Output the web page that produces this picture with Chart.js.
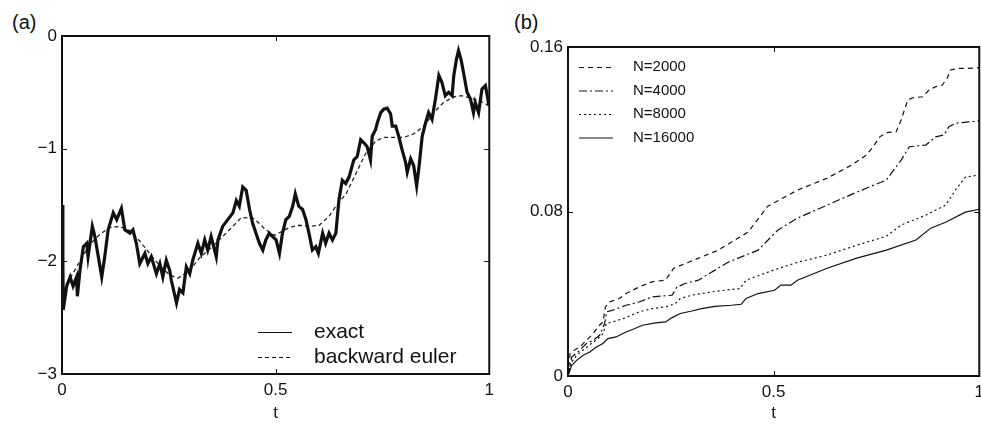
<!DOCTYPE html>
<html><head><meta charset="utf-8">
<script src="https://cdn.jsdelivr.net/npm/chart.js@4.4.1/dist/chart.umd.min.js"></script>
<style>
html,body{margin:0;padding:0;background:#fff;overflow:hidden;width:981px;height:424px;}
#ca{position:absolute;left:0;top:0;}
#cb{position:absolute;left:500px;top:0;}
.lab{position:absolute;font-family:"Liberation Sans",Arial,sans-serif;font-size:20px;color:#111;line-height:20px;}
</style></head>
<body>
<div class="lab" style="left:12px;top:12px;">(a)</div>
<div class="lab" style="left:514px;top:12px;">(b)</div>
<canvas id="ca" width="500" height="424"></canvas>
<canvas id="cb" width="490" height="424"></canvas>
<script>
// ---------- Panel (a) data ----------
const exactT = [0,0.002,0.003,0.011,0.019,0.026,0.034,0.036,0.042,0.050,0.058,0.061,0.071,0.077,0.085,0.093,0.100,0.108,0.120,0.128,0.139,0.147,0.159,0.166,0.174,0.182,0.194,0.201,0.209,0.221,0.229,0.236,0.244,0.252,0.256,0.268,0.275,0.283,0.291,0.299,0.306,0.318,0.326,0.334,0.341,0.349,0.361,0.365,0.376,0.388,0.400,0.408,0.415,0.423,0.431,0.439,0.446,0.454,0.462,0.470,0.477,0.485,0.493,0.501,0.509,0.516,0.524,0.532,0.540,0.546,0.554,0.563,0.571,0.578,0.586,0.594,0.600,0.610,0.617,0.625,0.633,0.641,0.648,0.656,0.664,0.672,0.683,0.691,0.699,0.707,0.714,0.722,0.726,0.734,0.738,0.746,0.753,0.761,0.769,0.773,0.781,0.788,0.796,0.804,0.808,0.816,0.823,0.830,0.835,0.843,0.851,0.858,0.866,0.874,0.882,0.889,0.897,0.905,0.913,0.917,0.923,0.928,0.934,0.940,0.948,0.956,0.963,0.967,0.975,0.983,0.991,0.998,1.0];
const exactV = [-1.5,-2.0,-2.43,-2.22,-2.14,-2.22,-2.14,-2.31,-2.08,-1.87,-1.84,-1.96,-1.69,-1.78,-1.96,-2.14,-1.96,-1.72,-1.57,-1.63,-1.53,-1.72,-1.75,-1.72,-1.84,-2.02,-1.93,-2.02,-1.96,-2.11,-2.02,-2.14,-1.99,-2.08,-2.17,-2.37,-2.25,-2.28,-2.05,-2.11,-1.99,-1.84,-1.93,-1.81,-1.90,-1.78,-1.96,-1.81,-1.69,-1.63,-1.57,-1.46,-1.51,-1.34,-1.37,-1.54,-1.66,-1.75,-1.84,-1.90,-1.81,-1.75,-1.78,-1.81,-1.93,-1.75,-1.63,-1.60,-1.51,-1.40,-1.51,-1.54,-1.63,-1.75,-1.90,-1.87,-1.93,-1.75,-1.84,-1.75,-1.81,-1.75,-1.46,-1.28,-1.31,-1.25,-1.10,-1.07,-0.92,-0.95,-0.98,-1.10,-0.89,-0.83,-0.77,-0.68,-0.65,-0.64,-0.69,-0.80,-0.80,-0.89,-1.01,-1.12,-1.21,-1.09,-1.15,-1.33,-1.18,-0.89,-0.77,-0.68,-0.74,-0.56,-0.35,-0.41,-0.53,-0.50,-0.53,-0.35,-0.21,-0.13,-0.21,-0.33,-0.50,-0.56,-0.68,-0.59,-0.68,-0.47,-0.44,-0.59,-0.62];
const eulerT = [0,0.019,0.042,0.065,0.089,0.112,0.135,0.159,0.182,0.205,0.229,0.252,0.271,0.299,0.322,0.357,0.392,0.420,0.450,0.474,0.497,0.532,0.555,0.578,0.602,0.625,0.641,0.665,0.688,0.711,0.735,0.753,0.777,0.800,0.823,0.847,0.870,0.893,0.917,0.935,0.956,0.980,1.0];
const eulerV = [-2.25,-2.15,-2.0,-1.85,-1.76,-1.70,-1.69,-1.73,-1.82,-1.93,-2.04,-2.12,-2.15,-2.08,-1.97,-1.85,-1.72,-1.61,-1.62,-1.71,-1.77,-1.70,-1.68,-1.69,-1.68,-1.60,-1.51,-1.40,-1.22,-1.04,-0.93,-0.90,-0.90,-0.90,-0.87,-0.80,-0.68,-0.59,-0.54,-0.53,-0.55,-0.58,-0.62];
const ticksAx = [0,0.5,1];
const ticksAy = [-3,-2,-1,0];

// ---------- Panel (b) data ----------
const n2000T = [0,0.005,0.021,0.033,0.041,0.049,0.061,0.073,0.085,0.091,0.101,0.125,0.141,0.173,0.204,0.237,0.257,0.293,0.365,0.438,0.486,0.558,0.630,0.690,0.726,0.742,0.758,0.774,0.798,0.810,0.826,0.838,0.862,0.878,0.894,0.910,0.922,0.930,0.950,0.974,1.0];
const n2000V = [0,0.0109,0.0133,0.0149,0.0166,0.0182,0.0206,0.0239,0.0263,0.0336,0.0360,0.0377,0.0401,0.0433,0.0458,0.0466,0.0524,0.0553,0.0612,0.0700,0.0826,0.0904,0.0962,0.1026,0.1075,0.1115,0.1163,0.1183,0.1188,0.1245,0.1342,0.1353,0.1358,0.1391,0.1407,0.1415,0.1448,0.1488,0.1496,0.1496,0.1499];
const n4000T = [0,0.009,0.024,0.045,0.061,0.077,0.089,0.094,0.109,0.141,0.173,0.205,0.253,0.265,0.285,0.317,0.389,0.462,0.510,0.558,0.630,0.702,0.774,0.810,0.830,0.870,0.894,0.914,0.926,0.942,0.974,1.0];
const n4000V = [0,0.0092,0.0117,0.0158,0.0174,0.0198,0.0255,0.0312,0.0320,0.0344,0.0360,0.0385,0.0393,0.0433,0.0450,0.0466,0.0553,0.0612,0.0709,0.0768,0.0831,0.0894,0.0953,0.1050,0.1115,0.1123,0.1163,0.1172,0.1212,0.1229,0.1236,0.1241];
const n8000T = [0,0.009,0.021,0.041,0.057,0.073,0.085,0.093,0.109,0.141,0.173,0.205,0.237,0.261,0.273,0.301,0.349,0.397,0.418,0.433,0.500,0.558,0.630,0.702,0.774,0.810,0.870,0.918,0.942,0.966,1.0];
const n8000V = [0,0.0068,0.0101,0.0133,0.0158,0.0182,0.0206,0.0255,0.0263,0.0284,0.0312,0.0328,0.0336,0.0352,0.0377,0.0393,0.0409,0.0421,0.0425,0.0466,0.0515,0.0553,0.0588,0.0636,0.0680,0.0734,0.0782,0.0831,0.0904,0.0967,0.0978];
const n16000T = [0,0.009,0.021,0.037,0.053,0.069,0.085,0.097,0.117,0.141,0.157,0.181,0.213,0.237,0.253,0.273,0.301,0.325,0.357,0.397,0.421,0.433,0.462,0.502,0.518,0.542,0.558,0.630,0.702,0.774,0.846,0.882,0.918,0.966,1.0];
const n16000V = [0,0.0052,0.0076,0.0101,0.0117,0.0141,0.0158,0.0182,0.0190,0.0214,0.0226,0.0247,0.0258,0.0263,0.0284,0.0304,0.0316,0.0328,0.0339,0.0344,0.0349,0.0377,0.0401,0.0417,0.0442,0.0442,0.0466,0.0524,0.0573,0.0612,0.0661,0.0719,0.0748,0.0797,0.0811];
const ticksBx = [0,0.5,1];
const ticksBy = [0,0.08,0.16];

const FONT = '"Liberation Sans", Arial, Helvetica, sans-serif';
const pts = (T,V) => T.map((t,i)=>({x:t,y:V[i]}));
const fmt = v => { const s = Number(Number(v).toFixed(2)).toString(); return v < 0 ? '\u2212' + s.slice(1) : s; };

const boxPlugin = {
  id: 'mbox',
  afterDatasetsDraw(chart, args, o) {
    const ctx = chart.ctx, a = chart.chartArea, sx = chart.scales.x, sy = chart.scales.y;
    ctx.save();
    ctx.strokeStyle = '#111';
    ctx.lineWidth = 2;
    ctx.setLineDash([]);
    ctx.strokeRect(a.left, a.top, a.right - a.left, a.bottom - a.top);
    ctx.lineWidth = 1;
    const tl = 5;
    ctx.beginPath();
    sx.ticks.forEach(t => { const p = Math.round(sx.getPixelForValue(t.value)) + 0.5;
      ctx.moveTo(p, a.bottom); ctx.lineTo(p, a.bottom - tl);
      ctx.moveTo(p, a.top); ctx.lineTo(p, a.top + tl); });
    sy.ticks.forEach(t => { const p = Math.round(sy.getPixelForValue(t.value)) + 0.5;
      ctx.moveTo(a.left, p); ctx.lineTo(a.left + tl, p);
      ctx.moveTo(a.right, p); ctx.lineTo(a.right - tl, p); });
    ctx.stroke();
    // legend
    const L = o.legend;
    ctx.font = L.size + 'px ' + FONT;
    ctx.textBaseline = 'middle';
    ctx.fillStyle = '#111';
    chart.data.datasets.forEach((d, i) => {
      const y = L.ys[i];
      ctx.strokeStyle = '#111';
      ctx.lineWidth = 1.2;
      ctx.setLineDash(d.borderDash || []);
      ctx.beginPath(); ctx.moveTo(L.x0, y + 0.5); ctx.lineTo(L.x1, y + 0.5); ctx.stroke();
      ctx.fillText(d.label, L.tx, y);
    });
    ctx.restore();
  }
};

function axisCfg(min, max, list, fit, isX) {
  return {
    type: 'linear', min: min, max: max,
    afterBuildTicks: s => { s.ticks = list.map(v => ({value: v})); },
    ticks: { callback: v => fmt(v), color: '#111', font: {family: FONT, size: 17}, padding: isX ? 6 : 5, autoSkip: false, maxRotation: 0 },
    grid: { display: false, drawTicks: false, tickLength: 0 },
    border: { display: false },
    title: isX ? { display: true, text: 't', color: '#111', font: {family: FONT, size: 17}, padding: {top: 0, bottom: 0} } : { display: false },
    afterFit: fit
  };
}

new Chart(document.getElementById('ca'), {
  type: 'line',
  data: { datasets: [
    { label: 'exact', data: pts(exactT, exactV), borderColor: '#111', borderWidth: 3.2, borderJoinStyle: 'miter', pointRadius: 0, tension: 0 },
    { label: 'backward euler', data: pts(eulerT, eulerV), borderColor: '#222', borderWidth: 1.3, borderDash: [4,3], pointRadius: 0, tension: 0 }
  ]},
  options: {
    responsive: false, animation: false, events: [],
    layout: { padding: { top: 36, right: 9, left: 0, bottom: 0 } },
    scales: {
      x: axisCfg(0, 1, ticksAx, s => { s.height = 50; }, true),
      y: axisCfg(-3, 0, ticksAy, s => { s.width = 62; }, false)
    },
    plugins: { legend: {display: false}, tooltip: {enabled: false},
      mbox: { legend: { x0: 258, x1: 292, tx: 314, ys: [332, 357], size: 21 } } }
  },
  plugins: [boxPlugin]
});

new Chart(document.getElementById('cb'), {
  type: 'line',
  data: { datasets: [
    { label: 'N=2000', data: pts(n2000T, n2000V), borderColor: '#111', borderWidth: 1.2, borderDash: [5,4], pointRadius: 0, tension: 0 },
    { label: 'N=4000', data: pts(n4000T, n4000V), borderColor: '#111', borderWidth: 1.2, borderDash: [8,3,2,3], pointRadius: 0, tension: 0 },
    { label: 'N=8000', data: pts(n8000T, n8000V), borderColor: '#111', borderWidth: 1.2, borderDash: [2,3], pointRadius: 0, tension: 0 },
    { label: 'N=16000', data: pts(n16000T, n16000V), borderColor: '#111', borderWidth: 1.2, pointRadius: 0, tension: 0 }
  ]},
  options: {
    responsive: false, animation: false, events: [],
    layout: { padding: { top: 47, right: 6, left: 0, bottom: 0 } },
    scales: {
      x: axisCfg(0, 1, ticksBx, s => { s.height = 48; }, true),
      y: axisCfg(0, 0.16, ticksBy, s => { s.width = 68; }, false)
    },
    plugins: { legend: {display: false}, tooltip: {enabled: false},
      mbox: { legend: { x0: 79, x1: 113, tx: 133, ys: [67, 90.5, 114, 137.5], size: 15 } } }
  },
  plugins: [boxPlugin]
});
</script>
</body></html>
